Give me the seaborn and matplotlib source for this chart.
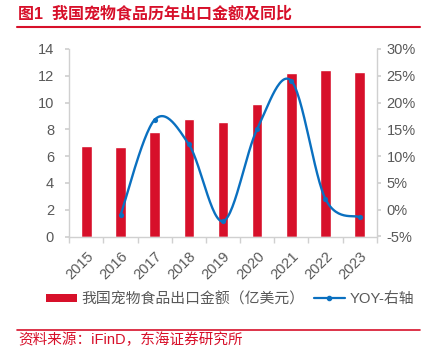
import numpy as np
import pandas as pd
import matplotlib
matplotlib.use("Agg")
import matplotlib.pyplot as plt
import seaborn as sns
from matplotlib.patches import Rectangle
from matplotlib.lines import Line2D

# ---- data ----
years = ["2015", "2016", "2017", "2018", "2019", "2020", "2021", "2022", "2023"]
export_value = [6.75, 6.68, 7.8, 8.76, 8.57, 9.86, 12.2, 12.45, 12.27]
yoy_years = ["2016", "2017", "2018", "2019", "2020", "2021", "2022", "2023"]
yoy = [-1.0, 16.8, 12.2, -2.15, 15.05, 24.05, 2.0, -1.4]
left_ticks = [0, 2, 4, 6, 8, 10, 12, 14]
right_ticks = [-5, 0, 5, 10, 15, 20, 25, 30]

RED = "#D7102A"
BLUE = "#0A70C0"
GRAY = "#D0D0D0"
TXT = "#595959"

sns.set_theme(style="white")
plt.rcParams["font.family"] = ["Liberation Sans", "Noto Sans CJK SC"]

fig = plt.figure(figsize=(4.28, 3.51), dpi=100)
ax = fig.add_axes([69.3 / 428, 1 - 236.5 / 351, (376.7 - 69.3) / 428, (236.5 - 49) / 351])

df = pd.DataFrame({"year": years, "value": export_value})
sns.barplot(data=df, x="year", y="value", color=RED, saturation=1, width=0.31, ax=ax)
ax.set_xlim(-0.5, 8.5)
ax.set_ylim(0, 14)
ax.set_yticks(left_ticks)
ax.set_xlabel("")
ax.set_ylabel("")

ax2 = ax.twinx()
ax2.set_ylim(-5, 30)
ax2.set_yticks(right_ticks)
ax2.set_yticklabels([f"{t}%" for t in right_ticks])

# smooth (Excel-style) curve through the YOY points
pos = np.array([years.index(y) for y in yoy_years], dtype=float)
val = np.array(yoy, dtype=float)
P = np.column_stack([pos, val])
Pext = np.vstack([P[0], P, P[-1]])
curve = []
t = np.linspace(0, 1, 30)[:, None]
for i in range(len(P) - 1):
    p0, p1, p2, p3 = Pext[i], Pext[i + 1], Pext[i + 2], Pext[i + 3]
    c1 = p1 + (p2 - p0) / 6
    c2 = p2 - (p3 - p1) / 6
    seg = (1 - t) ** 3 * p1 + 3 * (1 - t) ** 2 * t * c1 + 3 * (1 - t) * t ** 2 * c2 + t ** 3 * p2
    curve.append(seg)
curve = np.vstack(curve)
ax2.plot(curve[:, 0], curve[:, 1], color=BLUE, lw=1.7, zorder=3)
sns.scatterplot(x=pos, y=val, ax=ax2, color=BLUE, s=14, edgecolor=BLUE, linewidth=0, zorder=4)

# spines / ticks
for a in (ax, ax2):
    for s in a.spines.values():
        s.set_visible(False)
ax.spines["left"].set_visible(True)
ax.spines["left"].set_color(GRAY)
ax.spines["bottom"].set_visible(True)
ax.spines["bottom"].set_color(GRAY)
ax2.spines["right"].set_visible(True)
ax2.spines["right"].set_color(GRAY)
for s in ("left", "bottom"):
    ax.spines[s].set_linewidth(1.0)
ax2.spines["right"].set_linewidth(1.0)

ax.tick_params(axis="y", which="major", direction="out", length=3, color=GRAY,
               labelsize=10.5, labelcolor=TXT, left=True, pad=8)
ax2.tick_params(axis="y", which="major", direction="out", length=3, color=GRAY,
                labelsize=10.5, labelcolor=TXT, right=True, pad=4)
ax.set_xticks(range(len(years)))
ax.set_xticklabels(years, rotation=45, ha="right", va="top", rotation_mode="anchor")
ax.tick_params(axis="x", which="major", length=0, labelsize=10.5, labelcolor=TXT, pad=9)
ax.set_xticks(np.arange(-0.5, 9.0, 1.0), minor=True)
ax.tick_params(axis="x", which="minor", direction="out", length=4, color=GRAY, bottom=True)

# legend
h1 = Rectangle((0, 0), 1, 1, facecolor=RED, edgecolor="none")
h2 = Line2D([0], [0], color=BLUE, lw=1.6, marker="o", markersize=3)
leg = fig.legend([h1, h2], ["我国宠物食品出口金额（亿美元）", "YOY-右轴"],
                 loc="center", bbox_to_anchor=(230 / 428, 1 - 299 / 351), ncol=2,
                 frameon=False, fontsize=10.7, handlelength=2.1, handleheight=0.45,
                 handletextpad=0.3, columnspacing=0.6, labelcolor=TXT)

# title & source
fig.text(18 / 428, 1 - 14 / 351, "图1  我国宠物食品历年出口金额及同比", color=RED,
         fontsize=11.5, fontweight="bold", va="center", ha="left")
fig.add_artist(Line2D([17 / 428, 420 / 428], [1 - 27 / 351] * 2, color=RED, lw=1.5,
                      transform=fig.transFigure))
fig.add_artist(Line2D([17 / 428, 420 / 428], [1 - 330 / 351] * 2, color=RED, lw=1.2,
                      transform=fig.transFigure))
fig.text(18 / 428, 1 - 340 / 351, "资料来源：iFinD，东海证券研究所", color=RED,
         fontsize=10.5, va="center", ha="left")

fig.savefig("out.png", dpi=100)
